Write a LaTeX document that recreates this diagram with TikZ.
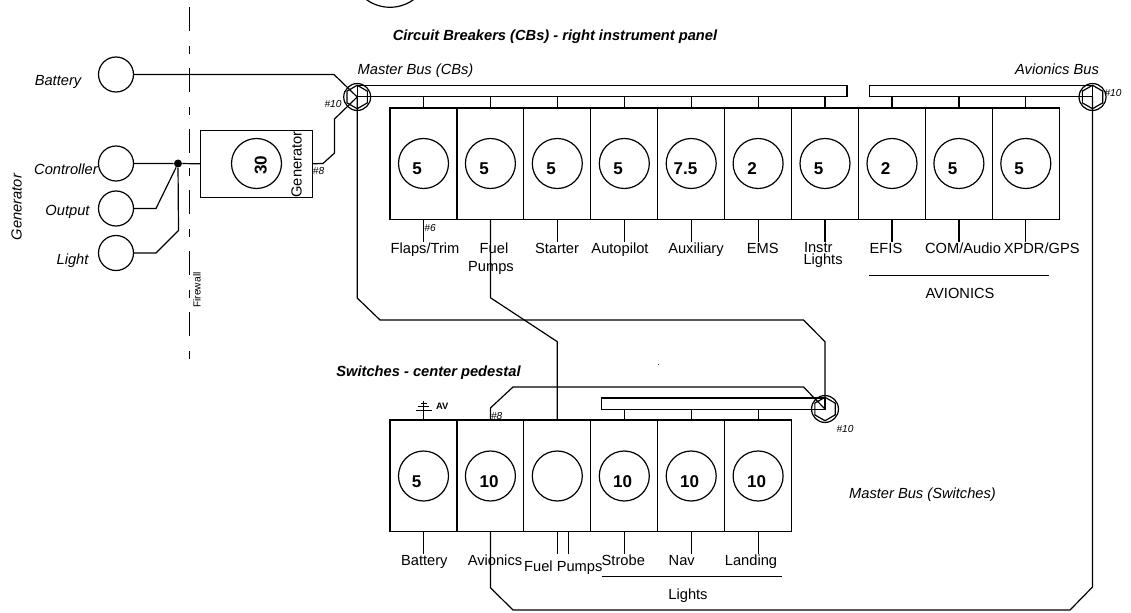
\documentclass[tikz,border=0pt]{standalone}
\usepackage{fontspec}
\setmainfont{Liberation Sans}
\usetikzlibrary{shapes.geometric}
\tikzset{
  wire/.style={draw=black,line width=0.9pt,line join=miter},
  cell/.style={draw=black,line width=0.9pt,rectangle,minimum width=50.2pt,minimum height=83.6pt,inner sep=0pt,outer sep=0pt},
  breaker/.style={draw=black,line width=0.9pt,circle,minimum size=37.5pt,inner sep=0pt,outer sep=0pt},
  terminal/.style={draw=black,line width=0.9pt,circle,minimum size=26.25pt,inner sep=0pt,outer sep=0pt},
  busbar/.style={draw=black,line width=0.9pt,rectangle,inner sep=0pt,outer sep=0pt,minimum height=8.4pt},
  hubring/.style={draw=black,line width=0.9pt,circle,minimum size=20.2pt,inner sep=0pt,outer sep=0pt},
  hubhex/.style={draw=black,line width=0.9pt,regular polygon,regular polygon sides=6,minimum size=17.6pt,inner sep=0pt,outer sep=0pt,shape border rotate=30},
  txt/.style={anchor=base,inner sep=0pt,outer sep=0pt,font=\fontsize{11}{11}\selectfont,text=black},
  ital/.style={txt,font=\fontsize{11}{11}\selectfont\itshape},
  amp/.style={anchor=base,inner sep=0pt,outer sep=0pt,font=\fontsize{12.8}{12.8}\selectfont\bfseries},
  gauge/.style={anchor=base,inner sep=0pt,outer sep=0pt,font=\fontsize{7.6}{7.6}\selectfont\itshape,text=black},
  heading/.style={anchor=base,inner sep=0pt,outer sep=0pt,font=\fontsize{11}{11}\selectfont\bfseries\itshape},
}
\begin{document}
\begin{tikzpicture}[x=0.75pt,y=-0.75pt]
\fill[white] (0,0) rectangle (1131,613);
\useasboundingbox (0,0) rectangle (1131,613);
% partial circle at top edge
\begin{scope}
\clip (0,0) rectangle (1131,613);
\draw[wire] (390,-32.7) circle[radius=40];
\end{scope}
% firewall
\coordinate (fwtop) at (189.5,7);
\coordinate (fwbot) at (189.5,361);
\draw[wire,dash pattern=on 18pt off 11.25pt on 6pt off 10.5pt] (fwtop) -- (fwbot);
\node[txt,rotate=90,font=\fontsize{7.7}{7.7}\selectfont] (fwl) at (200.7,290) {Firewall};
% terminals
\node[terminal] (bat) at (116,74.5) {};
\node[terminal] (ctl) at (116,163.5) {};
\node[terminal] (out) at (116,208.5) {};
\node[terminal] (lgt) at (116,253) {};
\node[ital] (tbat) at (58,86) {Battery};
\node[ital] (tctl) at (66,175) {Controller};
\node[ital] (tout) at (67.5,215) {Output};
\node[ital] (tlgt) at (72.5,264) {Light};
\node[ital,rotate=90] (tgen) at (21.7,207) {Generator};
% generator breaker
\node[draw=black,line width=0.9pt,rectangle,minimum width=84pt,minimum height=50pt,inner sep=0pt,outer sep=0pt] (gcb) at (256.5,163.8) {};
\node[breaker] (gcbc) at (256.5,163.5) {};
\node[amp,rotate=90] (gcbn) at (266.5,165) {30};
\node[txt,rotate=90] (gcbt) at (301.7,164.5) {Generator};
\node[fill=black,circle,minimum size=6pt,inner sep=0pt] (jn) at (178,163.5) {};
\coordinate (oc) at (156,208.5);
\coordinate (lc1) at (156,253);
\coordinate (lc2) at (178.5,230.5);
\draw[wire] (ctl.east) -- (jn) -- (gcb.west);
\draw[wire] (out.east) -- (oc) -- (jn);
\draw[wire] (lgt.east) -- (lc1) -- (lc2) -- (jn);
% hubs
\node[hubring] (mhub) at (357.2,97) {};
\node[hubhex] (mhex) at (357.2,97) {};
\node[hubring] (ahub) at (1092.5,97) {};
\node[hubhex] (ahex) at (1092.5,97) {};
\node[hubring] (shub) at (825,409) {};
\node[hubhex] (shex) at (825,409) {};
% busbars
\node[busbar,minimum width=367.3pt,anchor=north west] (mbus) at (357.2,85.5) {};
\node[busbar,minimum width=167.3pt,anchor=north east] (abus) at (1092.5,85.5) {};
\node[busbar,minimum width=167.5pt,anchor=north east] (sbus) at (825,398) {};
% circuit breaker row
\foreach \i/\xc/\amps/\ax in {1/423.5/5/417,2/490.4/5/484,3/557.3/5/551,4/624.3/5/618,5/691.2/7.5/685.5,6/758.1/2/752,7/825.0/5/818.5,8/892.0/2/885.5,9/958.9/5/952.5,10/1025.8/5/1019}{
  \node[cell] (cb\i) at (\xc,163.7) {};
  \node[breaker] (cbc\i) at (\xc,163.5) {};
  \node[amp] (cbn\i) at (\ax,175) {\amps};
  \coordinate (cbe\i) at (\xc,242);
  \draw[wire] (cb\i.south) -- (cbe\i);
}
\foreach \i in {1,...,7}{\draw[wire] (cb\i.north) -- (cb\i.north |- mbus.south);}
\foreach \i in {8,9,10}{\draw[wire] (cb\i.north) -- (cb\i.north |- abus.south);}
% switch row
\foreach \i/\xc/\amps/\ax in {1/423.5/5/416.7,2/490.4/10/489,3/557.3//557,4/624.3/10/622.7,5/691.2/10/689.7,6/758.1/10/756.7}{
  \node[cell] (sw\i) at (\xc,475.8) {};
  \node[breaker] (swc\i) at (\xc,476) {};
  \node[amp] (swn\i) at (\ax,487) {\amps};
  \coordinate (swe\i) at (\xc,553.5);
}
\foreach \i in {1,3,4,5,6}{\draw[wire] (sw\i.south) -- (swe\i);}
\foreach \i in {4,5,6}{\draw[wire] (sw\i.north) -- (sw\i.north |- sbus.south);}
\coordinate (fp2a) at (568.8,531.6);
\coordinate (fp2b) at (568.8,553.5);
\draw[wire] (fp2a) -- (fp2b);
% wires
\coordinate (w1) at (334,74.5);
\draw[wire] (bat.east) -- (w1) -- (mhub.center);
\coordinate (g1) at (323,163.5);
\coordinate (g2) at (334.5,153);
\coordinate (g3) at (334.5,119);
\draw[wire] (gcb.east) -- (g1) -- (g2) -- (g3) -- (mhub.center);
\coordinate (m1) at (357.2,298);
\coordinate (m2) at (380,320);
\coordinate (m3) at (803.5,320);
\coordinate (m4) at (825,341.7);
\draw[wire] (mhub.center) -- (m1) -- (m2) -- (m3) -- (m4) -- (shub.center);
\coordinate (f1) at (490.4,297.7);
\coordinate (f2) at (557.3,341.7);
\draw[wire] (cb2.south) -- (f1) -- (f2) -- (sw3.north);
\coordinate (a1) at (490.4,408);
\coordinate (a2) at (513,387);
\coordinate (a3) at (803.5,387);
\draw[wire] (sw2.north) -- (a1) -- (a2) -- (a3) -- (shub.center);
\coordinate (b1) at (490.4,587.7);
\coordinate (b2) at (513,610);
\coordinate (b3) at (1070,610);
\coordinate (b4) at (1092.5,587);
\draw[wire] (sw2.south) -- (b1) -- (b2) -- (b3) -- (b4) -- (ahub.center);
% ground
\coordinate (gt) at (423.5,410);
\coordinate (gi) at (423.5,401);
\draw[wire] (sw1.north) -- (gt);
\draw[wire,line width=0.5pt] (gt) -- (gi);
\draw[wire,line width=0.7pt] (415.5,410) -- (431.5,410);
\draw[wire,line width=0.6pt] (418.2,406.7) -- (428.8,406.7);
\draw[wire,line width=0.6pt] (420.5,403.5) -- (426.5,403.5);
\node[anchor=base,inner sep=0pt,font=\fontsize{7}{7}\selectfont\bfseries] (tav) at (442.3,409) {AV};
% labels: top row
\node[txt] (l1) at (425,253) {Flaps/Trim};
\node[txt] (l2a) at (494,253) {Fuel};
\node[txt] (l2b) at (491,271) {Pumps};
\node[txt] (l3) at (557,253) {Starter};
\node[txt] (l4) at (620,253) {Autopilot};
\node[txt] (l5) at (696,253) {Auxiliary};
\node[txt] (l6) at (762.7,253) {EMS};
\node[txt,anchor=base west] (l7a) at (804,252.7) {Instr};
\node[txt,anchor=base west] (l7b) at (803.5,264) {Lights};
\node[txt] (l8) at (886,253) {EFIS};
\node[txt] (l9) at (963,253) {COM/Audio};
\node[txt] (l10) at (1041.7,253) {XPDR/GPS};
\coordinate (av1) at (869.3,275);
\coordinate (av2) at (1048.7,275);
\draw[wire,line width=0.75pt] (av1) -- (av2);
\node[txt] (tavi) at (960,298) {AVIONICS};
% labels: switches
\node[txt] (s1) at (424.3,565) {Battery};
\node[txt] (s2) at (495,565) {Avionics};
\node[txt] (s3) at (563.3,571.7) {Fuel Pumps};
\node[txt] (s4) at (623.3,565) {Strobe};
\node[txt] (s5) at (681.7,565) {Nav};
\node[txt] (s6) at (751,565) {Landing};
\coordinate (li1) at (601.7,576.3);
\coordinate (li2) at (781.7,576.3);
\draw[wire,line width=0.75pt] (li1) -- (li2);
\node[txt] (tli) at (688,599) {Lights};
% bus labels and headings
\node[ital] (tmb) at (415.5,75) {Master Bus (CBs)};
\node[ital] (tab) at (1057,75) {Avionics Bus};
\node[ital] (tms) at (922.5,498) {Master Bus (Switches)};
\node[heading] (h1) at (555,40.7) {Circuit Breakers (CBs) - right instrument panel};
\node[heading] (h2) at (428.5,376) {Switches - center pedestal};
% gauges
\node[gauge] (g10a) at (333,108) {\#10};
\node[gauge] (g10b) at (1113,96.7) {\#10};
\node[gauge] (g10c) at (845,432) {\#10};
\node[gauge] (g8a) at (318.5,175) {\#8};
\node[gauge] (g6) at (430,231) {\#6};
\node[gauge] (g8b) at (496.7,419.5) {\#8};
\fill[black!70] (657.6,363.6) rectangle (658.6,364.6);
\end{tikzpicture}
\end{document}
